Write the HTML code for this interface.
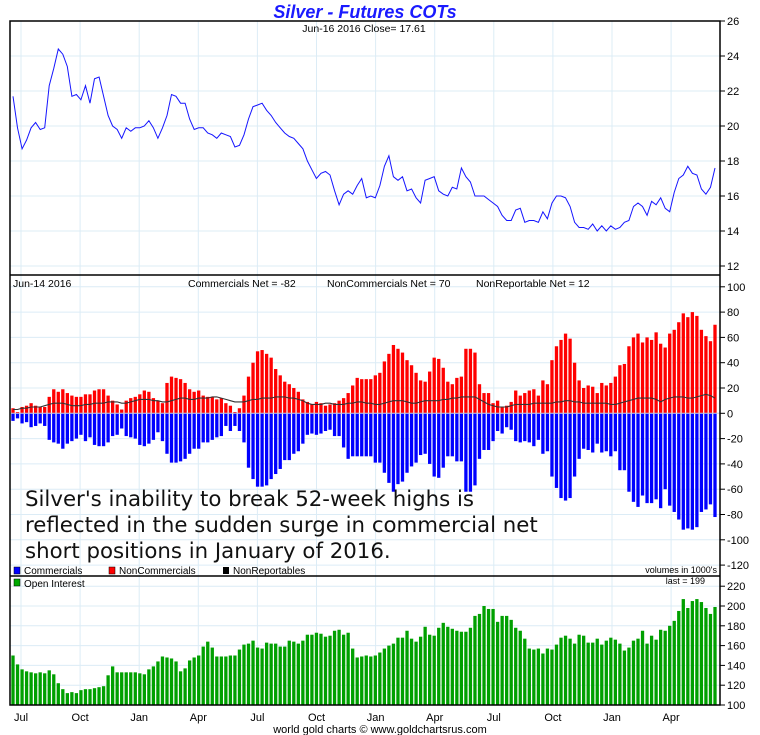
<!DOCTYPE html>
<html><head><meta charset="utf-8"><style>
html,body{margin:0;padding:0;background:#fff;}
svg{display:block;font-family:"Liberation Sans",Arial,sans-serif;}
</style></head><body>
<svg id="chart" width="760" height="735" viewBox="0 0 760 735">
<text x="365" y="18" text-anchor="middle" font-size="18" font-weight="bold" font-style="italic" fill="#1a1aff">Silver - Futures COTs</text>
<g id="grid"></g>
<g id="marks"></g>
<g id="frame">
<rect x="10" y="21" width="710" height="684" fill="none" stroke="#000" stroke-width="1.5"/>
<line x1="10" y1="275" x2="720" y2="275" stroke="#000" stroke-width="1.5"/>
<line x1="10" y1="576" x2="720" y2="576" stroke="#000" stroke-width="1.5"/>
</g>
<g id="axes"></g>
<text x="364" y="32" text-anchor="middle" font-size="10.5">Jun-16  2016   Close= 17.61</text>
<text x="13" y="287" font-size="10.5">Jun-14  2016</text>
<text x="188" y="287" font-size="10.5">Commercials Net = -82</text>
<text x="327" y="287" font-size="10.5">NonCommercials Net = 70</text>
<text x="476" y="287" font-size="10.5">NonReportable Net = 12</text>
<g>
<rect x="14" y="567" width="6" height="7" fill="#00f" stroke="#000" stroke-width="0.5"/>
<text x="24" y="574" font-size="10">Commercials</text>
<rect x="109" y="567" width="6" height="7" fill="#f00" stroke="#000" stroke-width="0.5"/>
<text x="119" y="574" font-size="10">NonCommercials</text>
<rect x="223" y="567" width="6" height="7" fill="#000"/>
<text x="233" y="574" font-size="10">NonReportables</text>
<text x="717" y="573" text-anchor="end" font-size="9">volumes in 1000's</text>
</g>
<rect x="14" y="579" width="6" height="7" fill="#0a0" stroke="#000" stroke-width="0.5"/>
<text x="24" y="587" font-size="10">Open Interest</text>
<text x="705" y="584" text-anchor="end" font-size="9">last = 199</text>
<g font-family="'DejaVu Sans',sans-serif" font-size="21.3" fill="#111">
<text x="25" y="506">Silver's inability to break 52-week highs is</text>
<text x="25" y="532">reflected in the sudden surge in commercial net</text>
<text x="25" y="558">short positions in January of 2016.</text>
</g>
<text x="380" y="733" text-anchor="middle" font-size="11">world gold charts © www.goldchartsrus.com</text>
</svg>
<script>
const monthLabels=["Jul","Oct","Jan","Apr","Jul","Oct","Jan","Apr","Jul","Oct","Jan","Apr"];
const priceTicks=[12,14,16,18,20,22,24,26];
const cotTicks=[-120,-100,-80,-60,-40,-20,0,20,40,60,80,100];
const oiTicks=[100,120,140,160,180,200,220];
const price=[21.7,19.9,18.7,19.2,19.9,20.2,19.8,19.9,22.3,23.3,24.4,24.1,23.4,21.7,21.8,21.5,22.3,21.3,22.7,22.8,21.7,20.6,20.0,19.8,19.3,19.9,19.7,19.9,19.9,20.0,20.3,19.9,19.3,19.9,20.6,21.8,21.7,21.3,21.3,20.4,19.8,19.9,19.9,19.6,19.5,19.3,19.6,19.5,19.4,18.8,18.9,19.5,20.4,21.1,21.2,21.3,20.9,20.6,20.2,19.9,19.6,19.4,19.3,19.0,18.7,18.0,17.5,17.0,17.3,17.4,17.2,16.3,15.5,16.1,16.3,16.1,16.6,17.0,15.9,16.0,15.9,16.6,17.7,18.3,17.1,16.9,17.1,16.3,16.4,15.9,15.6,16.9,17.0,17.1,16.3,16.1,16.0,16.5,16.4,17.6,17.1,16.8,16.0,16.0,16.0,15.8,15.6,15.4,14.9,14.6,14.6,15.2,15.3,14.5,14.6,14.6,14.5,15.1,14.7,15.6,16.0,16.0,15.9,15.4,14.5,14.2,14.2,14.1,14.4,14.0,14.3,14.0,14.3,14.1,14.2,14.5,14.6,15.4,15.6,15.4,14.9,15.7,15.5,15.9,15.3,15.1,16.2,17.0,17.2,17.7,17.3,17.2,16.4,16.1,16.5,17.6];
const nonCommercials=[4,1,5,6,8,6,5,5,13,19,17,19,16,14,13,13,15,15,18,19,19,14,10,7,3,10,12,13,15,18,17,12,10,8,24,29,28,27,24,19,17,18,14,13,13,11,12,8,6,1,4,14,29,40,49,50,47,44,35,30,25,23,20,17,11,9,7,9,8,6,7,8,10,12,16,22,28,27,27,27,30,32,41,47,54,51,48,42,38,32,26,25,33,44,43,36,25,23,28,29,51,51,48,23,16,16,8,10,5,6,9,18,14,16,18,19,14,26,23,42,53,58,63,59,40,26,20,22,21,16,24,22,24,29,38,39,53,60,63,56,60,58,64,55,52,63,66,72,79,76,80,77,66,61,57,70];
const commercials=[-6,-4,-8,-7,-11,-10,-8,-10,-21,-23,-24,-28,-24,-22,-20,-17,-22,-19,-25,-26,-26,-23,-18,-17,-12,-18,-19,-20,-25,-26,-24,-21,-15,-22,-32,-39,-39,-38,-36,-32,-28,-28,-23,-23,-21,-19,-18,-10,-14,-10,-14,-23,-43,-52,-58,-58,-57,-52,-48,-44,-37,-37,-32,-30,-24,-17,-16,-17,-16,-14,-13,-18,-18,-27,-36,-34,-34,-34,-34,-34,-39,-39,-47,-55,-62,-56,-54,-47,-42,-39,-33,-32,-40,-50,-51,-43,-34,-34,-38,-38,-62,-62,-57,-36,-29,-29,-22,-14,-16,-11,-13,-22,-23,-22,-23,-26,-21,-32,-30,-50,-59,-67,-69,-67,-50,-36,-28,-29,-31,-24,-31,-30,-34,-30,-45,-45,-62,-70,-74,-65,-71,-71,-68,-75,-60,-73,-78,-84,-92,-91,-92,-90,-78,-76,-72,-82];
const nonReportables=[3,3,4,4,5,5,5,6,7,8,8,8,7,6,6,6,7,7,8,8,8,9,9,9,8,8,9,10,11,11,11,10,10,9,9,10,11,12,12,11,11,12,12,12,13,13,12,11,10,9,9,9,10,11,11,12,12,12,13,13,13,12,12,11,10,8,7,7,7,8,8,7,7,7,8,8,9,9,8,8,7,7,8,9,10,10,10,9,8,8,9,10,10,10,10,11,11,12,12,13,13,13,13,11,9,7,6,5,5,5,6,7,7,7,7,8,8,8,8,8,9,9,10,10,9,9,8,8,8,8,8,8,7,7,8,9,10,11,12,12,12,12,11,9,11,12,13,13,13,12,12,13,14,15,14,12];
const openInterest=[150,141,136,134,133,132,133,132,135,131,122,116,112,113,112,115,116,116,117,118,119,130,139,133,133,133,133,133,132,131,136,139,144,149,148,147,144,134,137,145,148,150,159,164,158,149,149,149,150,150,156,161,162,165,158,157,163,162,162,159,159,165,164,162,165,171,171,173,172,169,170,175,176,171,173,157,148,149,150,149,150,153,157,160,162,168,168,175,167,164,169,179,171,170,178,183,179,177,175,174,174,178,190,192,200,197,197,184,190,190,186,178,175,167,157,156,157,152,157,156,161,168,170,167,162,171,170,163,163,167,161,165,168,166,162,155,158,165,167,175,162,170,166,176,175,180,185,195,207,198,205,207,204,198,192,199];

const NS="http://www.w3.org/2000/svg";
const L=10,R=720,x0=13,x1=715;
const xs=(i,n)=>x0+(x1-x0)*i/(n-1);
const yPrice=v=>21+(26-v)*17.5;
const yCot=v=>413.3-v*1.265;
const yOI=v=>705-(v-100)*0.99;
const grid=document.getElementById('grid'),marks=document.getElementById('marks'),axes=document.getElementById('axes');
function mk(tag,attrs,parent){const e=document.createElementNS(NS,tag);for(const k in attrs)e.setAttribute(k,attrs[k]);parent.appendChild(e);return e;}
const gc="#dcecf6";
monthLabels.forEach((m,k)=>{
  const x=21+59.1*k;
  const g=mk('line',{x1:x,y1:21,x2:x,y2:705,stroke:gc,'stroke-width':1},grid);
  
  
  const t=mk('text',{x:x,y:721,'text-anchor':'middle','font-size':11},axes);
  t.textContent=m;
  
  
});
function yAxis(ticks,yf,name){
  ticks.forEach(v=>{
    const y=yf(v);
    const g=mk('line',{x1:L,y1:y,x2:R,y2:y,stroke:gc,'stroke-width':1},grid);
    
    
    const tk=mk('line',{x1:R,y1:y,x2:R+5,y2:y,stroke:'#000','stroke-width':1},axes);
    
    
    const t=mk('text',{x:R+7,y:y+4,'font-size':11},axes);
    t.textContent=v;
    
    
  });
}
yAxis(priceTicks,yPrice,'price-axis');
yAxis(cotTicks,yCot,'cot-axis');
yAxis(oiTicks,yOI,'oi-axis');
const pp=mk('polyline',{points:price.map((v,i)=>xs(i,price.length).toFixed(1)+','+yPrice(v).toFixed(1)).join(' '),fill:'none',stroke:'#1515ff','stroke-width':1},marks);


const bw=3.3;
nonCommercials.forEach((v,i)=>{
  const x=xs(i,nonCommercials.length)-bw/2,y0=yCot(0),y=yCot(v);
  const r=mk('rect',{x:x,y:Math.min(y,y0),width:bw,height:Math.abs(y0-y),fill:'#ff0000'},marks);
  
  
});
commercials.forEach((v,i)=>{
  const x=xs(i,commercials.length)-bw/2,y0=yCot(0),y=yCot(v);
  const r=mk('rect',{x:x,y:Math.min(y,y0),width:bw,height:Math.abs(y0-y),fill:'#0000ff'},marks);
  
  
});
const zl=mk('line',{x1:L,y1:yCot(0),x2:R,y2:yCot(0),stroke:'#ccd',"stroke-width":1},marks);


const nr=mk('polyline',{points:nonReportables.map((v,i)=>xs(i,nonReportables.length).toFixed(1)+','+yCot(v).toFixed(1)).join(' '),fill:'none',stroke:'#333','stroke-width':1.1},marks);


openInterest.forEach((v,i)=>{
  const x=xs(i,openInterest.length)-bw/2,y=yOI(v);
  const r=mk('rect',{x:x,y:y,width:bw,height:705-y,fill:'#00a000'},marks);
  
  
});
</script>
</body></html>
